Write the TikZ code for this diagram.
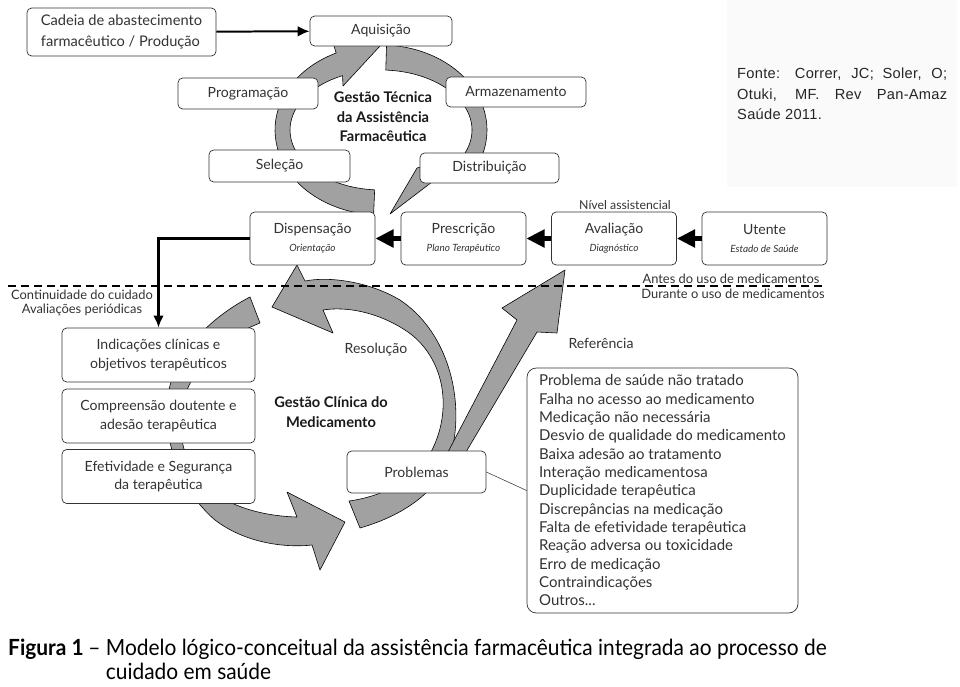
\documentclass[tikz,border=0pt]{standalone}
\usepackage{fontspec}
\setmainfont{Lato}
\newfontfamily\srcfont[LetterSpace=2]{Liberation Sans}
\newfontfamily\capfont[FakeStretch=0.94]{Lato}
\usetikzlibrary{arrows.meta,positioning}
\newcommand{\subtxt}[1]{{\fontsize{8.5}{10}\selectfont\itshape #1}}

\begin{document}
\begin{tikzpicture}[x=0.03cm, y=-0.03cm,
  box/.style={rectangle, draw=black!80, fill=white, rounded corners=4pt, line width=0.6pt,
              inner sep=1pt, align=center, text=black!80, font=\fontsize{12}{15}\selectfont},
  topbox/.style={box, minimum width=4.2cm, minimum height=0.9cm},
  carebox/.style={box, minimum width=3.75cm, minimum height=1.59cm},
  clinbox/.style={box, minimum width=5.79cm, minimum height=1.62cm, font=\fontsize{12}{16}\selectfont},
  band/.style={fill=black!37, draw=black, line width=0.5pt, line join=round},
  note/.style={text=black!80, inner sep=0pt, font=\fontsize{12}{15}\selectfont},
  heading/.style={text=black!90, inner sep=0pt, align=center, font=\fontsize{12.5}{16.6}\selectfont\bfseries},
  flow/.style={line width=4pt, -{Triangle[length=5.5mm, width=5.2mm]}},
  feed/.style={line width=1.7pt, -{Latex[length=3.6mm, width=3.2mm]}},
  care/.style={line width=2.8pt, -{Latex[length=3.6mm, width=3.2mm]}},
]
\useasboundingbox (0,0) rectangle (960,686);
\fill[white] (0,0) rectangle (960,686);

\node[fill=black!2, minimum width=6.9cm, minimum height=5.61cm, inner sep=0pt] (fontebg) at (842,93.5) {};
\node[anchor=north west, inner sep=0pt, text width=6.3cm, align=justify, text=black!85,
      font=\srcfont\fontsize{12.5}{17.5}\selectfont] (fonte) at (737,68)
  {Fonte: Correr, JC; Soler, O;\linebreak Otuki, MF. Rev Pan-Amaz\linebreak Saúde 2011.};

% gestao tecnica
\draw[band] plot[domain=94:245, samples=40] ({381+106*cos(\x)}, {130+85*sin(\x)})
  -- (326,22) -- (380,46) -- (343,86)
  -- plot[domain=245:94, samples=40] ({381+91*cos(\x)}, {130+60*sin(\x)}) -- cycle;
\draw[band] plot[domain=273:385, samples=40] ({381+106*cos(\x)}, {130+85*sin(\x)})
  -- (432,182) -- (390,214) -- (417,168)
  -- plot[domain=385:273, samples=40] ({381+91*cos(\x)}, {130+60*sin(\x)}) -- cycle;

% gestao clinica
\draw[band] (250,297) .. controls (215,315) and (175,350) .. (168,395)
  .. controls (162,440) and (180,490) .. (215,520)
  .. controls (245,543) and (285,548) .. (312,545)
  -- (320,570) -- (345,522) -- (287,492) -- (297,517)
  .. controls (260,516) and (225,505) .. (205,485)
  .. controls (180,460) and (175,420) .. (185,395)
  .. controls (200,355) and (230,335) .. (260,323) -- cycle;
\draw[band] (360,528) .. controls (405,515) and (447,488) .. (454,440)
  .. controls (462,390) and (445,330) .. (400,300)
  .. controls (370,282) and (330,276) .. (305,281)
  -- (297,265) -- (272,307) -- (333,333) -- (323,310)
  .. controls (355,305) and (390,318) .. (412,335)
  .. controls (445,362) and (452,410) .. (432,450)
  .. controls (418,478) and (385,496) .. (349,501) -- cycle;
\draw[band] (448,452) -- (517,320) -- (502,308) -- (565,270) -- (557,333) -- (537,332) -- (466,452) -- cycle;

\node[box, minimum width=5.67cm, minimum height=1.44cm, font=\fontsize{12.5}{18}\selectfont, align=left] (cadeia) at (121.5,32)
  {Cadeia de abastecimento\\farmacêutico / Produção};
\node[topbox, minimum width=4.26cm] (aquis) at (381,31) {Aquisição};
\node[topbox, minimum height=0.93cm] (prog) at (248,93.5) {Programação};
\node[topbox] (armaz) at (516,92) {Armazenamento};
\node[topbox, minimum width=4.23cm, minimum height=0.96cm] (selec) at (279.5,166) {Seleção};
\node[topbox, minimum width=4.17cm] (distr) at (489.5,168) {Distribuição};

\node[heading] (gtec) at (383,117) {Gestão Técnica\\da Assistência\\Farmacêutica};

\node[carebox] (disp) at (312.5,238.5) {Dispensação\\\subtxt{Orientação}};
\node[carebox] (presc) at (463.5,238.5) {Prescrição\\\subtxt{Plano Terapêutico}};
\node[carebox] (aval) at (614,238.5) {Avaliação\\\subtxt{Diagnóstico}};
\node[carebox] (utente) at (764.5,238.5) {Utente\\\subtxt{Estado de Saúde}};
\node[note, font=\fontsize{10.5}{12}\selectfont] (nivel) at (625,205) {Nível assistencial};

\node[clinbox] (indic) at (158.5,355) {Indicações clínicas e\\objetivos terapêuticos};
\node[clinbox] (compr) at (158.5,416) {Compreensão doutente e\\adesão terapêutica};
\node[clinbox] (efet) at (158.5,476.5) {Efetividade e Segurança\\da terapêutica};
\node[box, minimum width=4.17cm, minimum height=1.26cm] (probl) at (416.5,472) {Problemas};
\node[box, rounded corners=8pt, align=left, minimum width=8.13cm, minimum height=7.35cm,
      font=\fontsize{12.8}{15.65}\selectfont] (lista) at (662.5,490.5)
  {Problema de saúde não tratado\\Falha no acesso ao medicamento\\Medicação não necessária\\
   Desvio de qualidade do medicamento\\Baixa adesão ao tratamento\\Interação medicamentosa\\
   Duplicidade terapêutica\\Discrepâncias na medicação\\Falta de efetividade terapêutica\\
   Reação adversa ou toxicidade\\Erro de medicação\\Contraindicações\\Outros...};

\node[heading] (gclin) at (331,412) {Gestão Clínica do\\Medicamento};
\node[note] (resol) at (376,350) {Resolução};
\node[note] (refer) at (601,343) {Referência};
\node[note, align=center, font=\fontsize{11}{12}\selectfont] (contin) at (82,303)
  {Continuidade do cuidado\\Avaliações periódicas};
\node[note, font=\fontsize{11}{12}\selectfont] (antes) at (731,279) {Antes do uso de medicamentos};
\node[note, font=\fontsize{11}{12}\selectfont] (durante) at (733,294) {Durante o uso de medicamentos};

\draw[feed] (cadeia) -- (aquis);
\draw[flow] (utente) -- (aval);
\draw[flow] (aval) -- (presc);
\draw[flow] (presc) -- (disp);
\draw[care] (disp.west) -| (indic.north);
\draw[line width=0.5pt, black!75] (probl.east) -- (lista.west);

\coordinate (limE) at (8,286);
\coordinate (limD) at (825,286);
\draw[line width=2.5pt, dash pattern=on 0.24cm off 0.15cm] (limE) -- (limD);

\node[anchor=base west, inner sep=0pt, font=\capfont\fontsize{19}{21.3}\selectfont] (legenda) at (8,655)
  {\begin{tabular}[t]{@{}l@{\hspace{4pt}}l@{}}\textbf{Figura 1} & – Modelo lógico-conceitual da assistência farmacêutica integrada ao processo de\\
   & \phantom{– }cuidado em saúde\end{tabular}};

\end{tikzpicture}
\end{document}
